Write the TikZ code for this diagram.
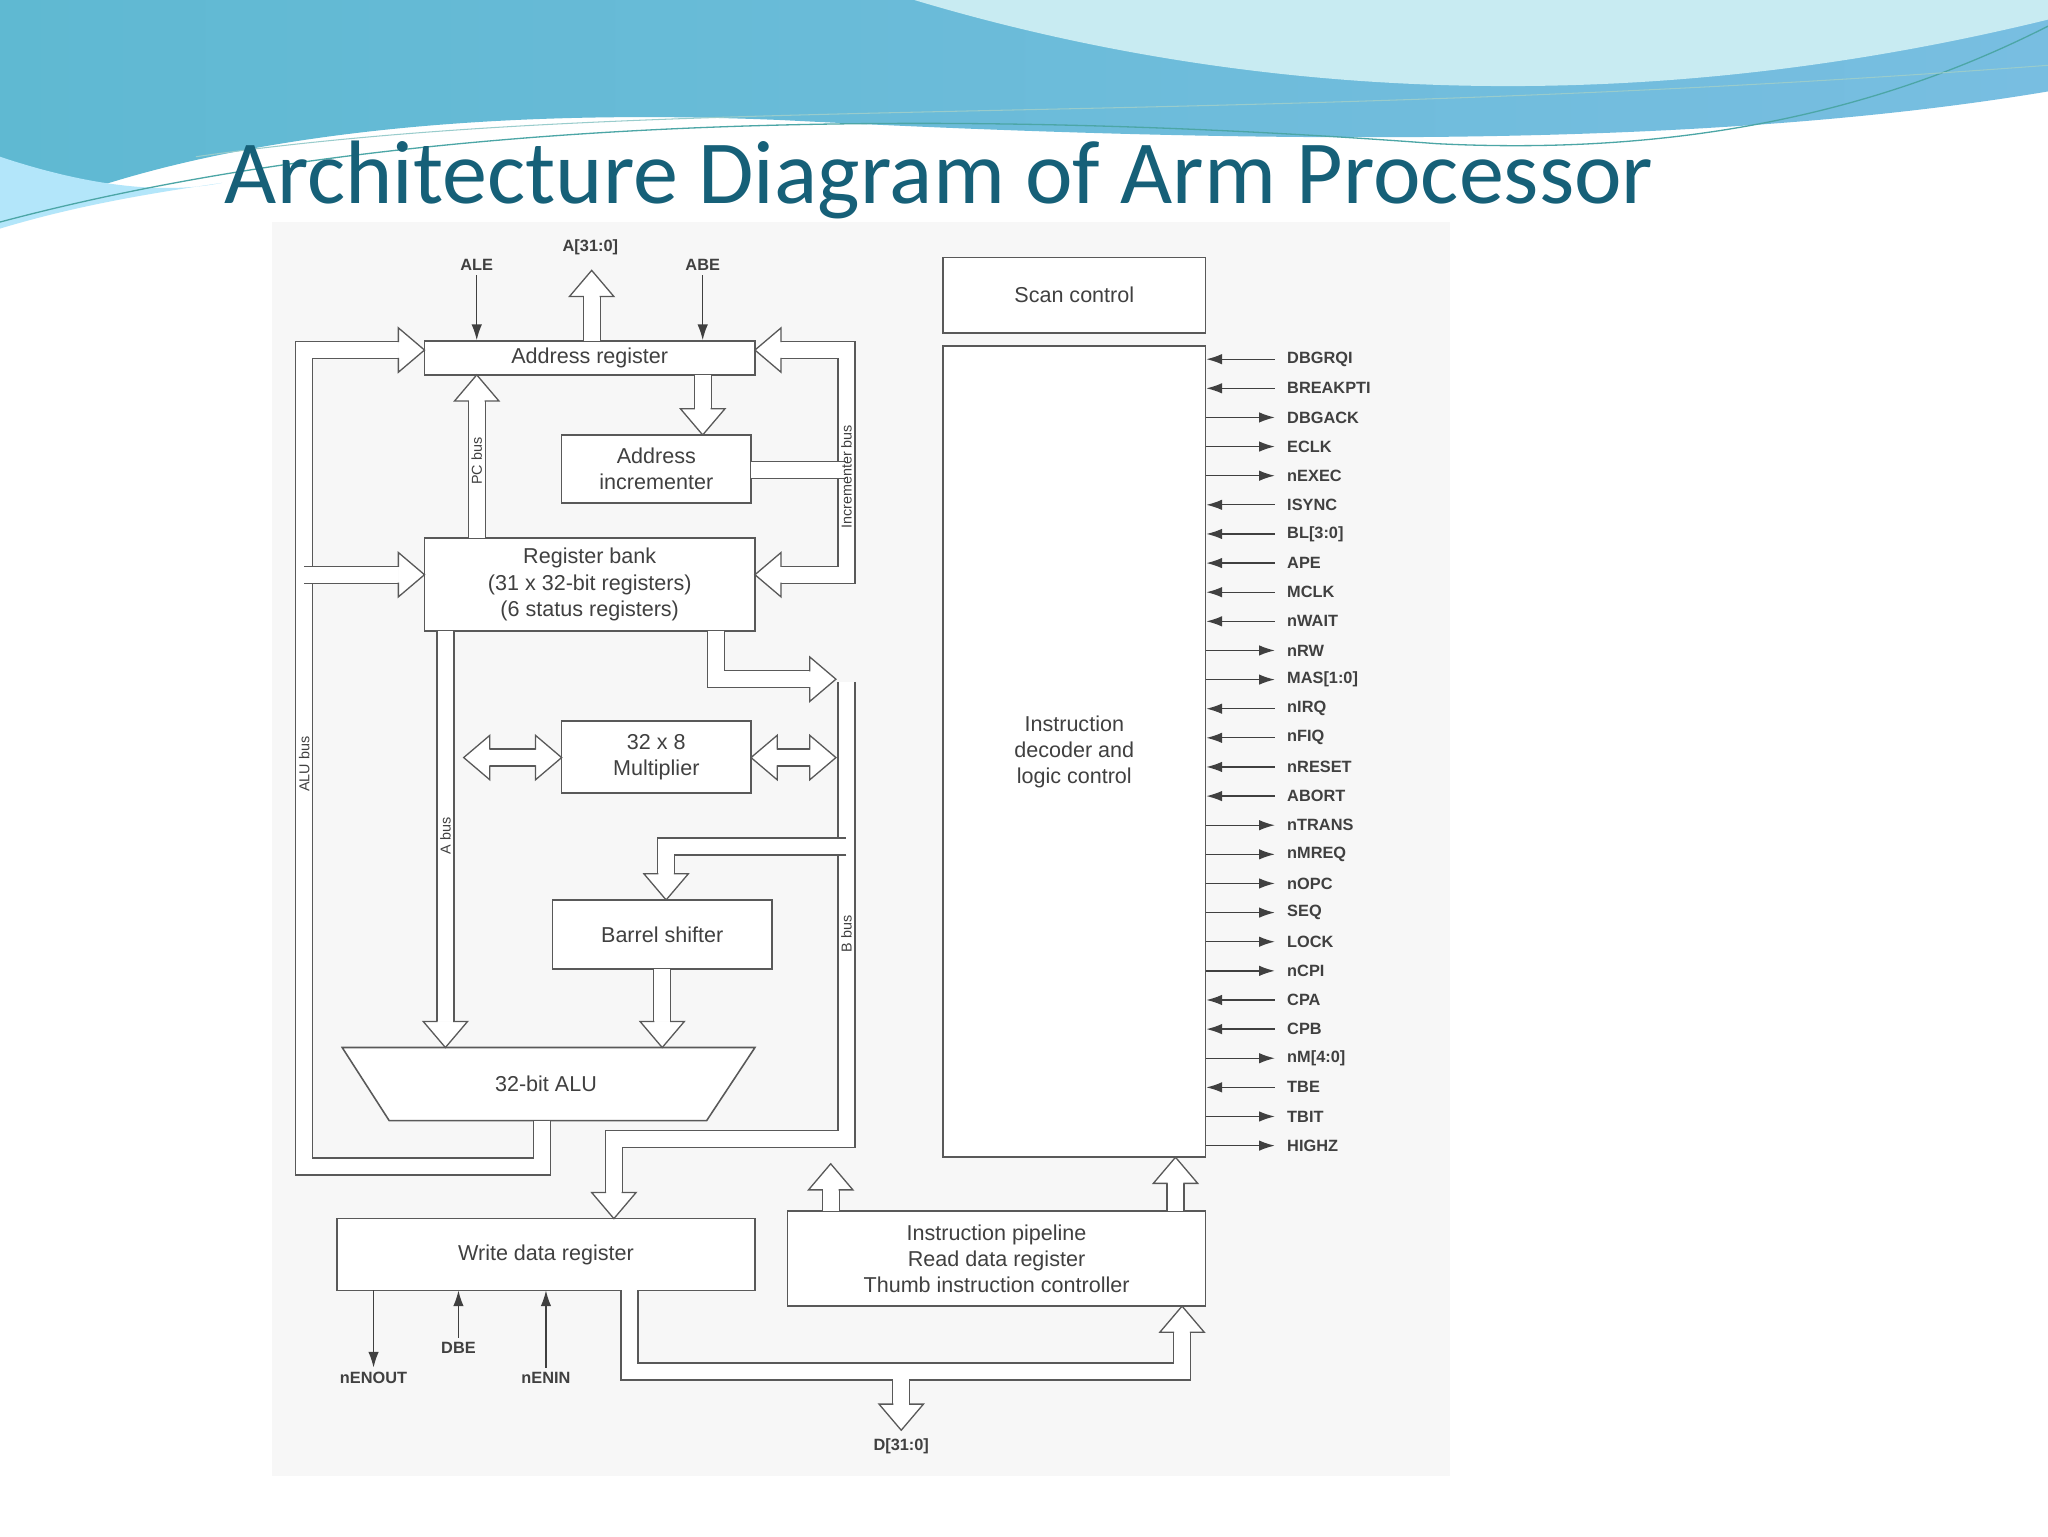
\documentclass[tikz,border=0pt]{standalone}
\usepackage{fontspec}
\usetikzlibrary{arrows.meta}
\setmainfont{Liberation Sans}
\newfontfamily\titlefont{Carlito}
\definecolor{wavea}{RGB}{95,185,210}
\definecolor{waveb}{RGB}{120,190,225}
\definecolor{wavec}{RGB}{200,235,242}
\definecolor{titlec}{RGB}{22,96,120}
\begin{document}
\begin{tikzpicture}[x=1pt,y=-1pt,
  box/.style={draw=black!65,line width=1.2pt,fill=white,inner sep=0pt,font=\fontsize{16.5}{20}\selectfont,text=black!75,align=center},
  bus/.style={draw=black!65,line width=1pt,double=white,double distance=12pt,line join=miter},
  sig/.style={draw=black!75,line width=1pt,-{Latex[length=12pt,width=8pt]}},
  lab/.style={font=\bfseries\fontsize{12.5}{14}\selectfont,text=black!75},
  blab/.style={font=\fontsize{11}{13}\selectfont,text=black!75,rotate=90},
  bh/.pic={\fill[white] (0,0)--(-20,-17)--(-20,17)--cycle;
    \draw[black!65,line width=1pt,line join=miter] (-20,-6)--(-20,-17)--(0,0)--(-20,17)--(-20,6);}
]
\useasboundingbox (0,0) rectangle (1568,1176);
\fill[white] (0,0) rectangle (1568,1176);
% header waves
\shade[left color=wavea,right color=waveb] (0,0)--(1568,0)--(1568,70) .. controls (1300,115) and (950,110) .. (600,92) .. controls (320,80) and (120,115) .. (0,172)--cycle;
\fill[wavec] (700,0) .. controls (900,60) and (1200,105) .. (1568,15)--(1568,0)--cycle;
\fill[cyan!30!white] (0,120) .. controls (60,140) and (120,150) .. (170,140) .. controls (100,150) and (50,160) .. (0,175)--cycle;
\draw[teal!70,line width=1pt] (0,170) .. controls (300,90) and (700,80) .. (1100,110) .. controls (1300,120) and (1450,80) .. (1568,20);
\draw[teal!40,line width=0.8pt] (150,120) .. controls (500,70) and (900,100) .. (1568,50);
\node[anchor=base west,font=\titlefont\fontsize{69}{72}\selectfont,text=titlec,inner sep=0pt] (title) at (172,156) {Architecture Diagram of Arm Processor};
% panel
\fill[black!3] (208,170) rectangle (1110,1130);

% boxes
\node[box,minimum width=253pt,minimum height=26pt] (ar) at (451.5,274) {Address register};
\node[box,minimum width=145pt,minimum height=52pt] (ai) at (502.5,359) {Address\\incrementer};
\node[box,minimum width=253pt,minimum height=71pt] (rb) at (451.5,447.5) {Register bank\\(31 x 32-bit registers)\\(6 status registers)};
\node[box,minimum width=145pt,minimum height=55pt] (mul) at (502.5,579.5) {32 x 8\\Multiplier};
\node[box,minimum width=168pt,minimum height=53pt] (bs) at (507,715.5) {Barrel shifter};
\draw[black!65,line width=1.2pt,fill=white] (262,802)--(578,802)--(541,858)--(298,858)--cycle;
\node[font=\fontsize{16.5}{20}\selectfont,text=black!75] (alu) at (418,830) {32-bit ALU};
\node[box,minimum width=320pt,minimum height=55pt] (wd) at (418,960.5) {Write data register};
\node[box,minimum width=320pt,minimum height=73pt] (ip) at (763,963.5) {Instruction pipeline\\Read data register\\Thumb instruction controller};
\node[box,minimum width=201pt,minimum height=58pt] (sc) at (822.5,226) {Scan control};
\node[box,minimum width=201pt,minimum height=621pt] (dec) at (822.5,575.5) {Instruction\\decoder and\\logic control};

% control signals
\foreach \n/\d [count=\i from 0] in {DBGRQI/i,BREAKPTI/i,DBGACK/o,ECLK/o,nEXEC/o,ISYNC/i,BL[3:0]/i,APE/i,MCLK/i,nWAIT/i,nRW/o,MAS[1:0]/o,nIRQ/i,nFIQ/i,nRESET/i,ABORT/i,nTRANS/o,nMREQ/o,nOPC/o,SEQ/o,LOCK/o,nCPI/o,CPA/i,CPB/i,nM[4:0]/o,TBE/i,TBIT/o,HIGHZ/o}{
  \pgfmathsetmacro{\yy}{275+22.3*\i}
  \coordinate (s\i) at (976,\yy);
  \coordinate (d\i) at (dec.east |- s\i);
  \if\d i \draw[sig] (s\i) -- (d\i); \else \draw[sig] (d\i) -- (s\i); \fi
  \node[lab,anchor=west] (t\i) at (982,\yy) {\n};
}

% top signals
\node[lab] (ale) at (365,203) {ALE};
\node[lab] (abe) at (538,203) {ABE};
\node[lab] (a31) at (452,189) {A[31:0]};
\draw[sig] (ale.south) -- (ale.south |- ar.north);
\draw[sig] (abe.south) -- (abe.south |- ar.north);
\draw[bus] (453,261)--(453,227); \pic[rotate=90] at (453,207) {bh};
% addr reg -> incrementer
\draw[bus] (538,287)--(538,313); \pic[rotate=270] at (538,333) {bh};
% PC bus
\draw[bus] (365,412)--(365,307); \pic[rotate=90] at (365,287) {bh};
\node[blab] (pcb) at (365,353) {PC bus};
% ALU bus loop
\draw[bus] (415,858)--(415,893)--(233,893)--(233,268)--(305,268); \pic at (325,268) {bh};
\draw[bus] (233,440)--(305,440); \pic at (325,440) {bh};
\node[blab] (alub) at (233,585) {ALU bus};
% incrementer bus
\draw[bus] (598,268)--(648,268)--(648,440)--(598,440);
\draw[bus] (575,360)--(648,360);
\pic[rotate=180] at (578,268) {bh}; \pic[rotate=180] at (578,440) {bh};
\node[blab] (incb) at (648,365) {Incrementer bus};
% reg bank -> B bus
\draw[bus] (548,483)--(548,520)--(620,520); \pic at (640,520) {bh};
\draw[bus] (648,522)--(648,872)--(470,872)--(470,913); \pic[rotate=270] at (470,933) {bh};
\draw[bus] (648,648)--(510,648)--(510,669); \pic[rotate=270] at (510,689) {bh};
\node[blab] (bb) at (648,715) {B bus};
% multiplier
\draw[bus] (595,580)--(620,580); \pic[rotate=180] at (575,580) {bh}; \pic at (640,580) {bh};
\draw[bus] (375,580)--(410,580); \pic[rotate=180] at (355,580) {bh}; \pic at (430,580) {bh};
% A bus
\draw[bus] (341,483)--(341,782); \pic[rotate=270] at (341,802) {bh};
\node[blab] (ab) at (341,640) {A bus};
% barrel -> ALU
\draw[bus] (507,742)--(507,782); \pic[rotate=270] at (507,802) {bh};
% pipeline up
\draw[bus] (636,927)--(636,911); \pic[rotate=90] at (636,891) {bh};
\draw[bus] (900,927)--(900,906); \pic[rotate=90] at (900,886) {bh};
% data bus
\draw[bus] (482,988)--(482,1050)--(905,1050)--(905,1020); \pic[rotate=90] at (905,1000) {bh};
\draw[bus] (690,1056)--(690,1075); \pic[rotate=270] at (690,1095) {bh};
\node[lab] (d31) at (690,1107) {D[31:0]};
% bottom signals
\node[lab] (nenout) at (286,1055) {nENOUT};
\node[lab] (dbe) at (351,1032) {DBE};
\node[lab] (nenin) at (418,1055) {nENIN};
\draw[sig] (286,988) -- (nenout.north);
\draw[sig] (dbe.north) -- (351,988);
\draw[sig] (nenin.north) -- (418,988);
\end{tikzpicture}
\end{document}
